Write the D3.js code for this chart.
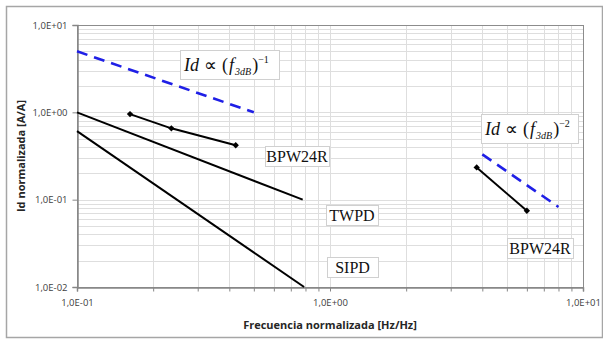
<!DOCTYPE html>
<html>
<head>
<meta charset="utf-8">
<script src="https://cdn.jsdelivr.net/npm/d3@7"></script>
<style>
  body { margin: 0; background: #fff; }
  svg { display: block; }
</style>
</head>
<body>
<script>
// data (log-log axes)
const xTicks = [0.1, 1, 10];
const xTickLabels = ['1,0E-01', '1,0E+00', '1,0E+01'];
const yTicks = [0.01, 0.1, 1, 10];
const yTickLabels = ['1,0E-02', '1,0E-01', '1,0E+00', '1,0E+01'];

const bpwLeftX = [0.162, 0.236, 0.424];
const bpwLeftY = [0.955, 0.656, 0.42];
const bpwRightX = [3.8, 6.0];
const bpwRightY = [0.234, 0.0746];
const twpdX = [0.1, 0.78];
const twpdY = [1.0, 0.1];
const sipdX = [0.1, 0.79];
const sipdY = [0.61, 0.01];
const slope1X = [0.1, 0.5];
const slope1Y = [5.0, 1.0];
const slope2X = [4.0, 8.0];
const slope2Y = [0.33, 0.0825];

const width = 603, height = 340;
const margin = { left: 77, top: 25, right: 20, bottom: 53 };

const svg = d3.select('body').append('svg')
  .attr('width', width)
  .attr('height', height);

// outer chart frame
svg.append('rect')
  .attr('x', 6.5).attr('y', 6.5)
  .attr('width', 596).attr('height', 331)
  .attr('fill', '#fff')
  .attr('stroke', '#a6a6a6')
  .attr('stroke-width', 1.5);

const xScale = d3.scaleLog().domain([0.1, 10]).range([margin.left, width - margin.right]);
const yScale = d3.scaleLog().domain([0.01, 10]).range([height - margin.bottom, margin.top]);

// minor + major gridlines
let minorVals = (lo, hi) => {
  let out = [];
  for (let e = lo; e < hi; e++) {
    for (let m = 1; m <= 9; m++) out.push(m * Math.pow(10, e));
  }
  out.push(Math.pow(10, hi));
  return out;
};
const xGrid = minorVals(-1, 1);
const yGrid = minorVals(-2, 1);

const grid = svg.append('g');
grid.selectAll('.vgrid')
  .data(xGrid)
  .enter()
  .append('line')
  .attr('x1', d => Math.round(xScale(d)) + 0.5)
  .attr('x2', d => Math.round(xScale(d)) + 0.5)
  .attr('y1', margin.top)
  .attr('y2', height - margin.bottom)
  .attr('stroke', '#dedede')
  .attr('stroke-width', 1);
grid.selectAll('.hgrid')
  .data(yGrid)
  .enter()
  .append('line')
  .attr('y1', d => Math.round(yScale(d)) + 0.5)
  .attr('y2', d => Math.round(yScale(d)) + 0.5)
  .attr('x1', margin.left)
  .attr('x2', width - margin.right)
  .attr('stroke', '#dedede')
  .attr('stroke-width', 1);

// plot area border
svg.append('rect')
  .attr('x', margin.left + 0.5)
  .attr('y', margin.top + 0.5)
  .attr('width', width - margin.left - margin.right)
  .attr('height', height - margin.top - margin.bottom)
  .attr('fill', 'none')
  .attr('stroke', '#8c8c8c')
  .attr('stroke-width', 1);

// axes
let xAxis = d3.axisBottom(xScale)
  .tickValues(xGrid)
  .tickSize(4)
  .tickFormat(d => {
    let i = xTicks.findIndex(t => Math.abs(t - d) < 1e-9);
    return i >= 0 ? xTickLabels[i] : '';
  });
let gx = svg.append('g')
  .attr('transform', 'translate(0,' + (height - margin.bottom + 0.5) + ')')
  .call(xAxis);
gx.select('.domain').attr('stroke', '#868686').attr('stroke-width', 1.5);
gx.selectAll('.tick line').attr('stroke', '#868686');
gx.selectAll('.tick text')
  .attr('dy', '1.25em')
  .attr('fill', '#404040')
  .style('font-family', '"Open Sans", sans-serif')
  .style('font-size', '9.5px');

let yAxis = d3.axisLeft(yScale)
  .tickValues(yTicks)
  .tickSize(5)
  .tickPadding(5)
  .tickFormat((d, i) => yTickLabels[i]);
let gy = svg.append('g')
  .attr('transform', 'translate(' + (margin.left + 0.5) + ',0)')
  .call(yAxis);
gy.select('.domain').attr('stroke', '#868686').attr('stroke-width', 1.5);
gy.selectAll('.tick line').attr('stroke', '#868686');
gy.selectAll('.tick text')
  .attr('fill', '#404040')
  .style('font-family', '"Open Sans", sans-serif')
  .style('font-size', '9.5px');

// axis titles
svg.append('text')
  .attr('x', (margin.left + width - margin.right) / 2)
  .attr('y', 329)
  .attr('text-anchor', 'middle')
  .style('font-family', '"Open Sans", sans-serif')
  .style('font-weight', 'bold')
  .style('font-size', '11px')
  .attr('fill', '#262626')
  .text('Frecuencia normalizada [Hz/Hz]');
svg.append('text')
  .attr('transform', 'translate(25,' + (margin.top + height - margin.bottom) / 2 + ') rotate(-90)')
  .attr('text-anchor', 'middle')
  .style('font-family', '"Open Sans", sans-serif')
  .style('font-weight', 'bold')
  .style('font-size', '11px')
  .attr('fill', '#262626')
  .text('Id normalizada [A/A]');

// series lines
const zip = (xs, ys) => xs.map((x, i) => [x, ys[i]]);
const line = d3.line().x(d => xScale(d[0])).y(d => yScale(d[1]));

const series = [
  { pts: zip(slope1X, slope1Y), color: '#1f1fe6', width: 2.6, dash: '11,7' },
  { pts: zip(slope2X, slope2Y), color: '#1f1fe6', width: 2.6, dash: '11,7' },
  { pts: zip(twpdX, twpdY), color: '#000', width: 2, dash: null },
  { pts: zip(sipdX, sipdY), color: '#000', width: 2, dash: null },
  { pts: zip(bpwLeftX, bpwLeftY), color: '#000', width: 2, dash: null, marker: true },
  { pts: zip(bpwRightX, bpwRightY), color: '#000', width: 2, dash: null, marker: true }
];

series.forEach(s => {
  svg.append('path')
    .datum(s.pts)
    .attr('d', line)
    .attr('fill', 'none')
    .attr('stroke', s.color)
    .attr('stroke-width', s.width)
    .attr('stroke-dasharray', s.dash);
  if (s.marker) {
    svg.selectAll(null)
      .data(s.pts)
      .enter()
      .append('path')
      .attr('d', d3.symbol(d3.symbolSquare, 20))
      .attr('transform', d => 'translate(' + xScale(d[0]) + ',' + yScale(d[1]) + ') rotate(45)')
      .attr('fill', '#000');
  }
});

// text labels in boxes
let labelBox = (x, y, w, h, txt) => {
  svg.append('rect')
    .attr('x', x + 0.5).attr('y', y + 0.5)
    .attr('width', w).attr('height', h)
    .attr('fill', '#fff')
    .attr('stroke', '#d0d0d0');
  svg.append('text')
    .attr('x', x + w / 2)
    .attr('y', y + h / 2 + 5.5)
    .attr('text-anchor', 'middle')
    .style('font-family', '"Liberation Serif", serif')
    .style('font-size', '16px')
    .attr('fill', '#111')
    .text(txt);
};
labelBox(265, 146, 64, 20, 'BPW24R');
labelBox(326, 205, 52, 20, 'TWPD');
labelBox(327, 257, 51, 20, 'SIPD');
labelBox(507, 238, 66, 20, 'BPW24R');

// formula boxes: Id ∝ (f3dB)^-n
let formulaBox = (x, y, w, h, exp) => {
  svg.append('rect')
    .attr('x', x + 0.5).attr('y', y + 0.5)
    .attr('width', w).attr('height', h)
    .attr('fill', '#fff')
    .attr('stroke', '#d0d0d0');
  let t = svg.append('text')
    .attr('x', x + 4)
    .attr('y', y + h / 2 + 6)
    .style('font-family', '"Liberation Serif", serif')
    .style('font-size', '18px')
    .attr('fill', '#111');
  t.append('tspan').style('font-style', 'italic').text('Id');
  t.append('tspan').attr('dx', 5).text('\u221D');
  t.append('tspan').attr('dx', 5).text('(');
  t.append('tspan').attr('dx', 1).style('font-style', 'italic').text('f');
  t.append('tspan').attr('dx', 1).style('font-style', 'italic').style('font-size', '10px').attr('dy', 4).text('3dB');
  t.append('tspan').attr('dx', 1).attr('dy', -4).text(')');
  t.append('tspan').style('font-size', '10px').attr('dy', -8).text('\u2212' + exp);
};
formulaBox(180, 50, 99, 29, 1);
formulaBox(481, 114, 97, 29, 2);
</script>
</body>
</html>
